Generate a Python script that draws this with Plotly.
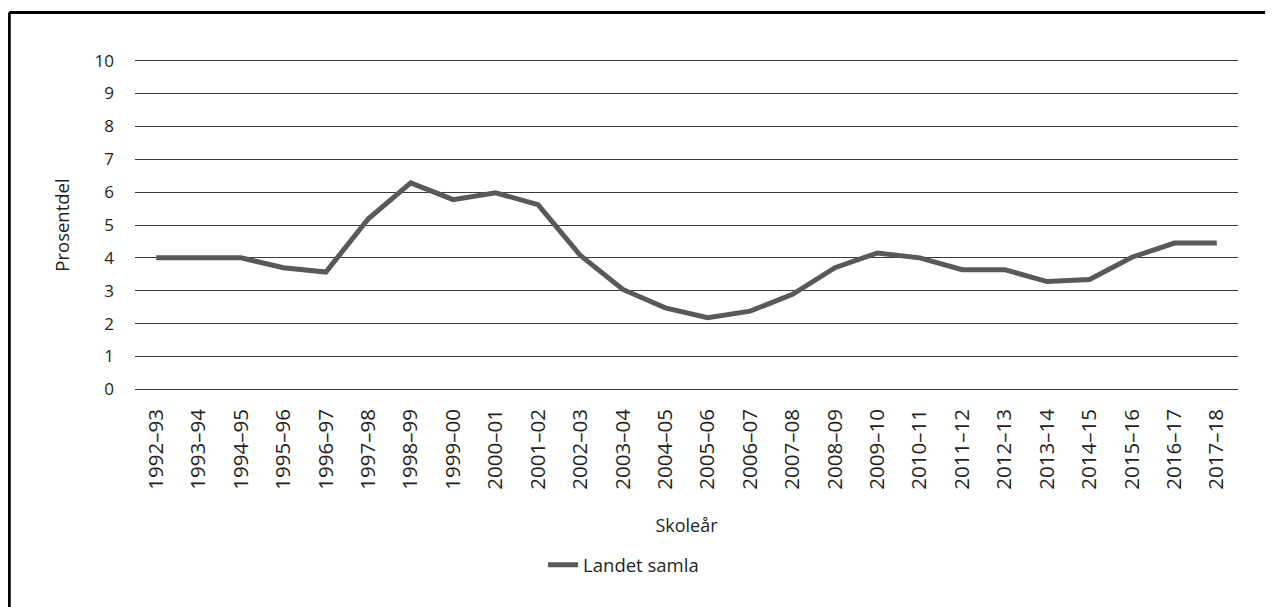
import plotly.graph_objects as go

# Andel elevar per skoleår (prosent)
skolear = ["1992–93", "1993–94", "1994–95", "1995–96", "1996–97", "1997–98",
           "1998–99", "1999–00", "2000–01", "2001–02", "2002–03", "2003–04",
           "2004–05", "2005–06", "2006–07", "2007–08", "2008–09", "2009–10",
           "2010–11", "2011–12", "2012–13", "2013–14", "2014–15", "2015–16",
           "2016–17", "2017–18"]
landet_samla = [4.0, 4.0, 4.0, 3.7, 3.57, 5.19, 6.28, 5.77, 5.98, 5.62, 4.07, 3.04,
                2.48, 2.18, 2.38, 2.89, 3.7, 4.15, 4.0, 3.64, 3.64, 3.28, 3.34,
                4.02, 4.45, 4.45]
y_ticks = list(range(0, 11))

tekst = "#231f20"
fnt = "Open Sans, Noto Sans, sans-serif"

fig = go.Figure()
fig.add_trace(go.Scatter(
    x=skolear, y=landet_samla, name="Landet samla", mode="lines",
    line=dict(color="#58595b", width=5),
))

fig.update_layout(
    width=1273, height=607,
    margin=dict(l=127, r=43, t=50, b=223, autoexpand=False),
    paper_bgcolor="white", plot_bgcolor="white",
    font=dict(family=fnt, size=17, color=tekst),
    showlegend=True,
    legend=dict(orientation="h", x=0.37, xanchor="left", y=-0.519, yanchor="middle",
                font=dict(size=18.5, color=tekst)),
    xaxis=dict(
        type="category", range=[-0.5, len(skolear) - 0.5], tickangle=-90,
        showgrid=False, showline=False, ticks="", ticklabelstandoff=12,
        tickfont=dict(size=20.5, color=tekst),
        title=dict(text="Skoleår", standoff=30, font=dict(size=18, color=tekst)),
    ),
    yaxis=dict(
        range=[-0.08, 10.08], tickvals=y_ticks, showgrid=True, gridcolor="#3a3a3a",
        gridwidth=1, zeroline=False, showline=False, ticks="", ticklabelstandoff=20,
        tickfont=dict(size=17, color=tekst),
        title=dict(text="Prosentdel", standoff=20, font=dict(size=18.5, color=tekst)),
    ),
    shapes=[
        dict(type="line", xref="paper", yref="paper", x0=-0.114, x1=1.13,
             y0=1.136, y1=1.136, line=dict(color="black", width=3)),
        dict(type="line", xref="paper", yref="paper", x0=-0.114, x1=-0.114,
             y0=1.136, y1=-0.66, line=dict(color="black", width=3)),
    ],
)

fig.write_html("out.html")
